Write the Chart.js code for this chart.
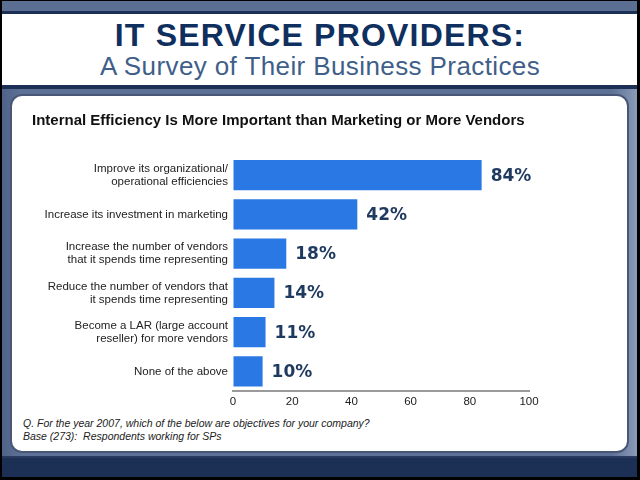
<!DOCTYPE html>
<html>
<head>
<meta charset="utf-8">
<script src="https://cdn.jsdelivr.net/npm/chart.js@4/dist/chart.umd.min.js"></script>
<style>
  html, body { margin: 0; padding: 0; width: 640px; height: 480px; overflow: hidden; background: #000; }
  .abs { position: absolute; }
  #topband { left: 2px; top: 1px; width: 635px; height: 10px; background: #5b6f93; }
  #topline { left: 2px; top: 11px; width: 635px; height: 3px; background: #1c2f55; }
  #header { left: 2px; top: 14px; width: 635px; height: 71px; background: #fff; }
  #midline { left: 2px; top: 85px; width: 635px; height: 4px; background: #1c2f55; }
  #slate { left: 2px; top: 89px; width: 635px; height: 367px;
           background: linear-gradient(to right, #4f6388 0%, #5d7196 3%, #5d7196 96%, #8b9bb8 100%); }
  #panel { left: 10px; top: 94px; width: 615px; height: 355px; background: #fff;
           border: 2px solid #4a5675; border-radius: 12px; }
  #botline { left: 2px; top: 456px; width: 635px; height: 2px; background: #2a3a5e; }
  #botband { left: 2px; top: 458px; width: 635px; height: 19px; background: #1c2f55; }
  #t1 { left: 0; top: 17px; width: 640px; text-align: center; font-family: "Liberation Sans", Arial, sans-serif;
        font-weight: bold; font-size: 32px; letter-spacing: 1.2px; color: #0f2f5e; line-height: 36px; }
  #t2 { left: 0; top: 51px; width: 640px; text-align: center; font-family: "Liberation Sans", Arial, sans-serif;
        font-size: 26px; letter-spacing: 0.4px; color: #3f5f8a; line-height: 30px; }
  #foot { left: 23px; top: 417px; font-family: "Liberation Sans", Arial, sans-serif; font-style: italic;
          font-size: 10.5px; line-height: 13px; color: #222; }
  #c { position: absolute; left: 0; top: 0; }
</style>
</head>
<body>
<div class="abs" id="topband"></div>
<div class="abs" id="topline"></div>
<div class="abs" id="header"></div>
<div class="abs" id="midline"></div>
<div class="abs" id="slate"></div>
<div class="abs" id="panel"></div>
<div class="abs" id="botline"></div>
<div class="abs" id="botband"></div>
<div class="abs" id="t1">IT SERVICE PROVIDERS:</div>
<div class="abs" id="t2">A Survey of Their Business Practices</div>
<div class="abs" id="foot">Q. For the year 2007, which of the below are objectives for your company?<br>Base (273):&nbsp; Respondents working for SPs</div>
<div style="position:absolute;left:0;top:0;width:640px;height:480px;">
  <canvas id="c" width="640" height="480"></canvas>
</div>
<script>
const categories = [
  ["Improve its organizational/", "operational efficiencies"],
  "Increase its investment in marketing",
  ["Increase the number of vendors", "that it spends time representing"],
  ["Reduce the number of vendors that", "it spends time representing"],
  ["Become a LAR (large account", "reseller) for more vendors"],
  "None of the above"
];
const values = [84, 42, 18, 14, 11, 10];
const xTicks = [0, 20, 40, 60, 80, 100];
const chartTitle = "Internal Efficiency Is More Important than Marketing or More Vendors";

const valueLabels = {
  id: 'valueLabels',
  afterDatasetsDraw(chart) {
    const ctx = chart.ctx;
    const meta = chart.getDatasetMeta(0);
    ctx.save();
    ctx.font = 'bold 17px "DejaVu Sans", sans-serif';
    ctx.fillStyle = '#1f3a5f';
    ctx.textAlign = 'left';
    ctx.textBaseline = 'middle';
    meta.data.forEach((bar, i) => {
      ctx.fillText(values[i] + '%', bar.x + 9, bar.y + 1);
    });
    ctx.restore();
  }
};

new Chart(document.getElementById('c'), {
  type: 'bar',
  data: {
    labels: categories,
    datasets: [{
      data: values,
      backgroundColor: '#2a78e4',
      borderWidth: 0,
      barPercentage: 0.765,
      categoryPercentage: 1.0
    }]
  },
  options: {
    indexAxis: 'y',
    responsive: false,
    animation: false,
    devicePixelRatio: 1,
    layout: { padding: { left: 32, right: 111, top: 100, bottom: 0 } },
    plugins: {
      legend: { display: false },
      tooltip: { enabled: false },
      title: {
        display: true,
        text: chartTitle,
        align: 'start',
        color: '#111',
        font: { family: '"Liberation Sans", Arial, sans-serif', size: 15, weight: 'bold', lineHeight: 1.2 },
        padding: { top: 12, bottom: 25.5 }
      }
    },
    scales: {
      x: {
        min: 0, max: 100,
        afterBuildTicks: s => { s.ticks = xTicks.map(v => ({ value: v })); },
        afterFit: s => { s.height = 89; },
        grid: { drawOnChartArea: false, drawTicks: false, color: 'rgba(0,0,0,0)' },
        border: { display: true, color: '#9a9a9a', width: 2 },
        ticks: {
          padding: 4,
          color: '#222',
          font: { family: '"Liberation Sans", Arial, sans-serif', size: 11.5 }
        }
      },
      y: {
        afterFit: s => { s.width = 201; },
        grid: { display: false, drawTicks: false },
        border: { display: false },
        ticks: {
          padding: 5,
          color: '#222',
          font: { family: '"Liberation Sans", Arial, sans-serif', size: 11.5, lineHeight: 13/11.5 }
        }
      }
    }
  },
  plugins: [valueLabels]
});
</script>
</body>
</html>
